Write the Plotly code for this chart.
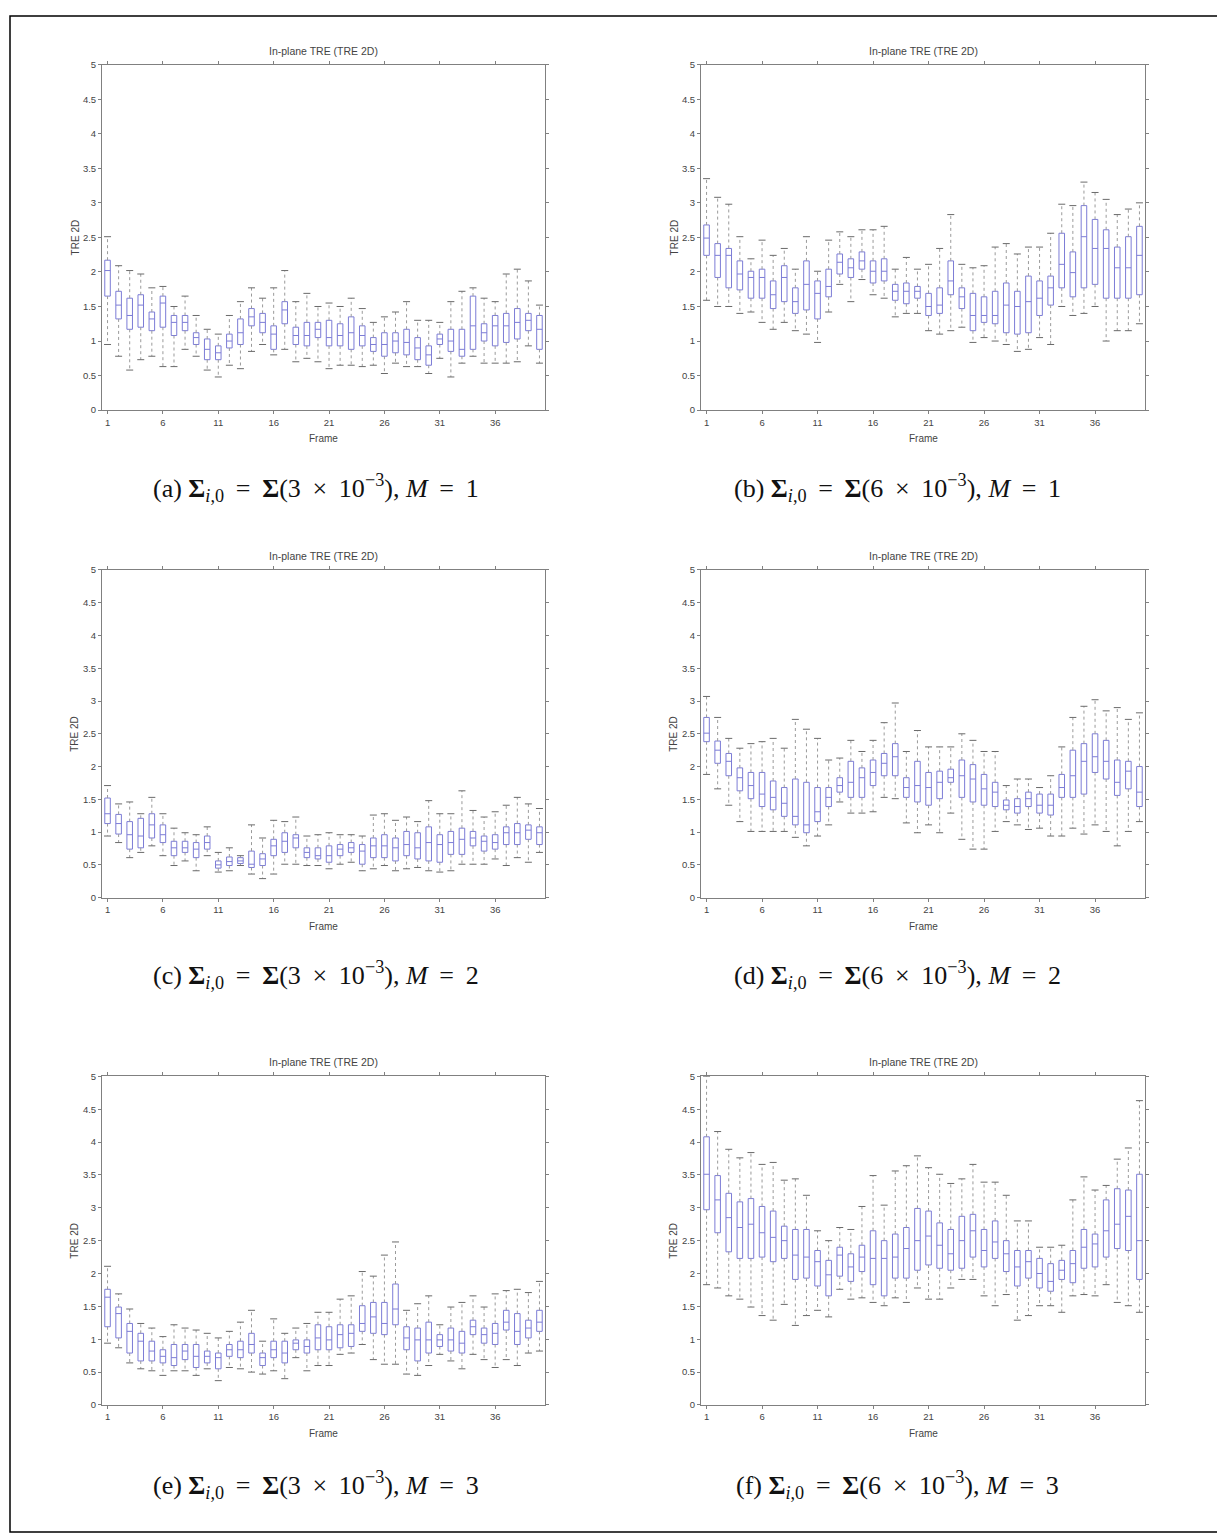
import plotly.graph_objects as go

W, H = 1225, 1535

FRAMES = list(range(1, 41))
X_TICKS = [1, 6, 11, 16, 21, 26, 31, 36]
Y_TICKS = [0, 0.5, 1, 1.5, 2, 2.5, 3, 3.5, 4, 4.5, 5]
Y_TICK_TEXT = ["0", "0.5", "1", "1.5", "2", "2.5", "3", "3.5", "4", "4.5", "5"]
PLOT_TITLE = "In-plane TRE (TRE 2D)"
X_LABEL = "Frame"
Y_LABEL = "TRE 2D"

SP = "&#8201;"  # thin space used to mimic LaTeX math spacing
CAPTIONS = [
    f"(a) <b>Σ</b><sub><i>i</i>,0</sub>{SP} = {SP}<b>Σ</b>(3{SP} × {SP}10<sup>−3</sup>), <i>M</i>{SP} = {SP}1",
    f"(b) <b>Σ</b><sub><i>i</i>,0</sub>{SP} = {SP}<b>Σ</b>(6{SP} × {SP}10<sup>−3</sup>), <i>M</i>{SP} = {SP}1",
    f"(c) <b>Σ</b><sub><i>i</i>,0</sub>{SP} = {SP}<b>Σ</b>(3{SP} × {SP}10<sup>−3</sup>), <i>M</i>{SP} = {SP}2",
    f"(d) <b>Σ</b><sub><i>i</i>,0</sub>{SP} = {SP}<b>Σ</b>(6{SP} × {SP}10<sup>−3</sup>), <i>M</i>{SP} = {SP}2",
    f"(e) <b>Σ</b><sub><i>i</i>,0</sub>{SP} = {SP}<b>Σ</b>(3{SP} × {SP}10<sup>−3</sup>), <i>M</i>{SP} = {SP}3",
    f"(f) <b>Σ</b><sub><i>i</i>,0</sub>{SP} = {SP}<b>Σ</b>(6{SP} × {SP}10<sup>−3</sup>), <i>M</i>{SP} = {SP}3",
]

# ---- panel (a) ----
A_LO = [0.95,0.78,0.58,0.73,0.78,0.63,0.63,0.88,0.78,0.58,0.48,0.65,0.60,0.85,0.95,0.80,0.88,0.70,0.75,0.70,0.60,0.65,0.65,0.63,0.65,0.53,0.68,0.63,0.63,0.53,0.75,0.48,0.68,0.78,0.68,0.68,0.68,0.70,0.93,0.68]
A_Q1 = [1.65,1.32,1.17,1.20,1.15,1.20,1.08,1.15,0.95,0.73,0.73,0.90,0.95,1.22,1.12,0.88,1.25,0.95,0.93,1.05,0.93,0.93,0.88,0.93,0.85,0.78,0.83,0.80,0.73,0.65,0.95,0.85,0.78,0.88,1.00,0.93,0.98,1.03,1.15,0.88]
A_MED = [2.02,1.52,1.37,1.52,1.32,1.55,1.27,1.27,1.05,0.88,0.83,1.00,1.12,1.35,1.27,1.10,1.45,1.08,1.08,1.17,1.05,1.08,1.12,1.08,0.95,0.95,1.00,0.98,0.90,0.80,1.03,1.00,0.88,1.22,1.12,1.22,1.22,1.27,1.30,1.17]
A_Q3 = [2.17,1.72,1.62,1.67,1.42,1.65,1.37,1.37,1.12,1.03,0.93,1.10,1.32,1.47,1.40,1.22,1.57,1.20,1.27,1.27,1.30,1.25,1.35,1.22,1.05,1.12,1.12,1.17,1.05,0.93,1.10,1.17,1.17,1.65,1.25,1.37,1.40,1.47,1.40,1.37]
A_HI = [2.51,2.09,2.02,1.97,1.77,1.79,1.50,1.65,1.37,1.17,1.10,1.37,1.57,1.77,1.62,1.77,2.02,1.57,1.69,1.50,1.55,1.50,1.62,1.47,1.27,1.35,1.42,1.57,1.30,1.30,1.27,1.57,1.72,1.77,1.62,1.57,1.97,2.04,1.87,1.52]

# ---- panel (b) ----
B_LO = [1.59,1.50,1.50,1.40,1.42,1.27,1.17,1.27,1.15,1.10,0.98,1.42,1.82,1.57,1.89,1.67,1.62,1.35,1.40,1.40,1.15,1.10,1.15,1.20,0.98,1.05,1.00,0.95,0.85,0.88,1.05,0.95,1.50,1.37,1.40,1.50,1.00,1.15,1.15,1.25]
B_Q1 = [2.24,1.92,1.77,1.74,1.62,1.62,1.47,1.57,1.40,1.45,1.32,1.64,1.97,1.92,2.04,1.84,1.87,1.59,1.54,1.62,1.37,1.40,1.67,1.47,1.15,1.27,1.25,1.12,1.10,1.12,1.37,1.52,1.77,1.64,1.77,1.82,1.62,1.62,1.62,1.67]
B_MED = [2.49,2.24,2.24,1.97,1.92,1.92,1.67,1.92,1.57,1.82,1.69,1.79,2.14,2.06,2.16,2.01,2.01,1.72,1.72,1.72,1.50,1.52,1.87,1.64,1.37,1.37,1.37,1.52,1.50,1.57,1.62,1.77,2.11,1.99,2.51,2.34,2.34,2.06,2.06,2.24]
B_Q3 = [2.68,2.41,2.34,2.16,2.01,2.04,1.87,2.09,1.77,2.16,1.87,2.04,2.26,2.19,2.29,2.16,2.19,1.82,1.84,1.79,1.69,1.77,2.16,1.77,1.69,1.64,1.72,1.84,1.72,1.94,1.87,1.94,2.56,2.29,2.96,2.76,2.61,2.36,2.51,2.66]
B_HI = [3.35,3.08,2.98,2.51,2.19,2.46,2.24,2.34,2.04,2.51,2.01,2.46,2.58,2.51,2.61,2.61,2.66,2.04,2.21,2.04,2.11,2.34,2.83,2.11,2.06,2.09,2.36,2.41,2.26,2.36,2.36,2.56,2.98,2.96,3.30,3.15,3.05,2.83,2.91,3.00]

# ---- panel (c) ----
C_LO = [0.94,0.84,0.61,0.69,0.79,0.64,0.49,0.56,0.41,0.64,0.39,0.41,0.49,0.36,0.29,0.36,0.51,0.51,0.49,0.49,0.44,0.51,0.54,0.41,0.44,0.49,0.41,0.44,0.46,0.41,0.39,0.41,0.51,0.51,0.51,0.59,0.49,0.61,0.54,0.69]
C_Q1 = [1.13,0.97,0.74,0.76,0.91,0.84,0.64,0.69,0.61,0.74,0.45,0.49,0.52,0.46,0.49,0.64,0.69,0.76,0.61,0.59,0.54,0.64,0.69,0.51,0.61,0.61,0.56,0.64,0.59,0.56,0.54,0.66,0.66,0.79,0.71,0.74,0.81,0.81,0.89,0.81]
C_MED = [1.28,1.13,0.96,0.94,1.11,0.96,0.76,0.76,0.74,0.84,0.50,0.55,0.56,0.51,0.59,0.79,0.86,0.91,0.69,0.64,0.64,0.74,0.76,0.71,0.79,0.79,0.76,0.81,0.76,0.84,0.81,0.84,0.89,0.91,0.86,0.84,0.99,0.99,1.03,0.99]
C_Q3 = [1.52,1.27,1.16,1.21,1.28,1.11,0.86,0.86,0.84,0.94,0.56,0.62,0.61,0.71,0.67,0.89,0.99,0.96,0.76,0.76,0.79,0.81,0.84,0.81,0.91,0.96,0.91,1.01,0.99,1.08,0.96,1.01,1.06,1.01,0.94,0.96,1.08,1.13,1.11,1.08]
C_HI = [1.71,1.43,1.46,1.28,1.53,1.28,1.06,0.99,0.96,1.08,0.69,0.76,0.64,1.11,0.91,1.18,1.16,1.23,0.94,0.96,0.99,0.96,0.96,0.94,1.26,1.28,1.18,1.23,1.16,1.48,1.28,1.28,1.63,1.33,1.23,1.31,1.41,1.53,1.43,1.36]

# ---- panel (d) ----
D_LO = [1.88,1.66,1.41,1.16,1.01,1.01,1.01,1.01,0.92,0.79,0.94,1.11,1.46,1.29,1.29,1.31,1.53,1.51,1.14,0.99,1.11,0.99,1.29,0.89,0.74,0.74,1.01,1.16,1.11,1.04,1.06,0.94,0.94,1.06,0.97,1.11,1.01,0.79,1.01,1.16]
D_Q1 = [2.38,2.05,1.86,1.63,1.51,1.39,1.34,1.24,1.11,0.99,1.16,1.39,1.61,1.53,1.53,1.71,1.86,1.86,1.53,1.46,1.41,1.51,1.76,1.53,1.46,1.41,1.39,1.34,1.29,1.39,1.29,1.26,1.53,1.53,1.58,1.91,1.81,1.56,1.66,1.39]
D_MED = [2.51,2.25,2.08,1.83,1.71,1.58,1.53,1.44,1.24,1.11,1.31,1.53,1.71,1.76,1.83,1.91,2.05,2.15,1.68,1.71,1.68,1.76,1.83,1.86,1.81,1.66,1.61,1.41,1.39,1.51,1.41,1.41,1.68,1.86,2.08,2.15,2.08,1.76,1.93,1.61]
D_Q3 = [2.75,2.39,2.20,1.98,1.91,1.91,1.78,1.68,1.81,1.76,1.68,1.68,1.83,2.08,1.98,2.10,2.20,2.35,1.83,2.08,1.91,1.93,1.96,2.10,2.03,1.88,1.76,1.49,1.51,1.61,1.58,1.58,1.88,2.25,2.35,2.50,2.40,2.10,2.08,2.00]
D_HI = [3.07,2.75,2.43,2.28,2.35,2.38,2.43,2.28,2.72,2.57,2.43,2.10,2.13,2.40,2.23,2.40,2.67,2.97,2.23,2.55,2.30,2.30,2.30,2.50,2.40,2.23,2.23,1.71,1.81,1.81,1.68,1.86,2.30,2.75,2.92,3.02,2.85,2.90,2.72,2.82]

# ---- panel (e) ----
E_LO = [0.94,0.87,0.64,0.55,0.52,0.45,0.52,0.52,0.45,0.55,0.37,0.57,0.55,0.50,0.47,0.52,0.40,0.72,0.52,0.60,0.60,0.77,0.79,0.92,0.69,0.62,0.62,0.47,0.45,0.60,0.77,0.67,0.55,0.77,0.69,0.57,0.69,0.60,0.79,0.82]
E_Q1 = [1.19,1.02,0.79,0.67,0.67,0.64,0.60,0.69,0.57,0.64,0.55,0.74,0.72,0.79,0.60,0.72,0.64,0.84,0.79,0.84,0.84,0.87,0.89,1.12,1.09,1.07,1.22,0.84,0.67,0.79,0.89,0.82,0.79,1.07,0.94,0.92,1.14,0.92,1.02,1.12]
E_MED = [1.64,1.39,1.12,0.97,0.82,0.74,0.72,0.82,0.74,0.74,0.72,0.84,0.84,0.92,0.72,0.84,0.79,0.94,0.89,1.02,0.99,1.07,1.09,1.24,1.34,1.24,1.46,1.02,0.99,0.99,0.99,0.99,0.94,1.19,1.07,1.09,1.26,1.12,1.17,1.26]
E_Q3 = [1.76,1.49,1.24,1.09,0.97,0.84,0.92,0.92,0.92,0.82,0.79,0.92,0.97,1.09,0.79,0.97,0.97,0.99,0.99,1.22,1.19,1.22,1.22,1.51,1.56,1.56,1.84,1.19,1.17,1.26,1.07,1.17,1.12,1.29,1.17,1.24,1.44,1.39,1.29,1.44]
E_HI = [2.11,1.69,1.46,1.24,1.17,1.04,1.22,1.17,1.14,1.09,1.02,1.12,1.26,1.44,0.97,1.31,1.09,1.17,1.24,1.41,1.41,1.61,1.66,2.03,1.96,2.28,2.48,1.44,1.54,1.66,1.22,1.49,1.56,1.66,1.49,1.69,1.74,1.76,1.71,1.88]

# ---- panel (f) ----
F_LO = [1.83,1.78,1.66,1.61,1.49,1.36,1.29,1.53,1.21,1.36,1.44,1.34,1.76,1.61,1.63,1.56,1.51,1.63,1.56,1.78,1.61,1.61,1.78,1.91,1.91,1.66,1.51,1.68,1.29,1.36,1.51,1.51,1.41,1.66,1.68,1.66,1.83,1.56,1.51,1.41]
F_Q1 = [2.97,2.62,2.33,2.23,2.23,2.25,2.18,2.23,1.91,1.93,1.81,1.66,1.96,1.88,2.03,1.83,1.66,1.93,1.93,2.05,2.13,2.08,2.05,2.08,2.25,2.10,2.23,2.03,1.81,1.93,1.78,1.73,1.91,1.86,2.08,2.10,2.25,2.38,2.35,1.91]
F_MED = [3.51,3.12,2.85,2.70,2.75,2.62,2.55,2.50,2.28,2.25,2.18,1.98,2.28,2.10,2.25,2.23,2.23,2.25,2.38,2.50,2.57,2.43,2.30,2.50,2.65,2.35,2.48,2.30,2.10,2.18,2.00,1.88,2.05,2.15,2.40,2.45,2.65,2.75,2.87,2.50]
F_Q3 = [4.08,3.49,3.22,3.09,3.14,3.02,2.95,2.72,2.67,2.67,2.35,2.20,2.40,2.30,2.43,2.65,2.50,2.60,2.70,2.99,2.95,2.77,2.67,2.87,2.90,2.67,2.80,2.50,2.35,2.35,2.23,2.15,2.20,2.35,2.67,2.60,3.12,3.29,3.27,3.51]
F_HI = [5.00,4.16,3.89,3.76,3.84,3.66,3.69,3.42,3.44,3.19,2.65,2.50,2.70,2.67,3.02,3.49,3.04,3.56,3.64,3.79,3.61,3.51,3.37,3.44,3.66,3.39,3.39,3.19,2.80,2.80,2.40,2.40,2.43,3.12,3.47,3.27,3.34,3.74,3.91,4.63]

PANELS = [
    (A_LO, A_Q1, A_MED, A_Q3, A_HI),
    (B_LO, B_Q1, B_MED, B_Q3, B_HI),
    (C_LO, C_Q1, C_MED, C_Q3, C_HI),
    (D_LO, D_Q1, D_MED, D_Q3, D_HI),
    (E_LO, E_Q1, E_MED, E_Q3, E_HI),
    (F_LO, F_Q1, F_MED, F_Q3, F_HI),
]

# ---- layout geometry (pixels) ----
COL_X = [(94, 537), (693, 1137)]
ROW_Y = [(51, 399), (560, 890), (1070, 1401)]
CAPTION_X = [308, 889]
CAPTION_Y = [477, 968, 1482]

BOX_COLOR = "#7c7cd6"
WHISK_COLOR = "#9a9a9a"
CAP_COLOR = "#6a6a6a"
AXIS_COLOR = "#808080"
TEXT_COLOR = "#444444"


def px_x(p):
    return p / W


def px_y(p):
    return 1 - p / H


fig = go.Figure()
annotations = []
layout_axes = {}

for i, (lo, q1, med, q3, hi) in enumerate(PANELS):
    r, c = divmod(i, 2)
    x0, x1 = COL_X[c]
    y0, y1 = ROW_Y[r]
    n = i + 1
    xa = "x" if n == 1 else f"x{n}"
    ya = "y" if n == 1 else f"y{n}"
    xkey = "xaxis" if n == 1 else f"xaxis{n}"
    ykey = "yaxis" if n == 1 else f"yaxis{n}"

    # whiskers (dotted)
    wx, wy = [], []
    for f, a, b, cq, d in zip(FRAMES, lo, q1, q3, hi):
        wx += [f, f, None, f, f, None]
        wy += [cq, d, None, b, a, None]
    fig.add_trace(go.Scatter(x=wx, y=wy, mode="lines", xaxis=xa, yaxis=ya,
                             line=dict(color=WHISK_COLOR, width=1, dash="dot"),
                             hoverinfo="skip", showlegend=False))
    # whisker caps
    fig.add_trace(go.Scatter(x=FRAMES + FRAMES, y=list(hi) + list(lo), mode="markers",
                             xaxis=xa, yaxis=ya,
                             marker=dict(symbol="line-ew", size=5,
                                         line=dict(color=CAP_COLOR, width=1)),
                             hoverinfo="skip", showlegend=False))
    # boxes
    fig.add_trace(go.Box(x=FRAMES, q1=q1, median=med, q3=q3,
                         lowerfence=q1, upperfence=q3,
                         xaxis=xa, yaxis=ya, width=0.5, whiskerwidth=0,
                         boxpoints=False,
                         line=dict(color=BOX_COLOR, width=1),
                         fillcolor="rgba(255,255,255,0)",
                         showlegend=False, hoverinfo="skip"))

    layout_axes[xkey] = dict(
        domain=[px_x(x0), px_x(x1)], anchor=ya, range=[0.5, 40.5],
        tickmode="array", tickvals=X_TICKS, ticktext=[str(t) for t in X_TICKS],
        showline=True, linecolor=AXIS_COLOR, linewidth=1, mirror="ticks",
        ticks="outside", ticklen=3, tickcolor=AXIS_COLOR,
        tickfont=dict(size=9.5, color=TEXT_COLOR, family="Liberation Sans"),
        showgrid=False, zeroline=False)
    layout_axes[ykey] = dict(
        domain=[px_y(y1), px_y(y0)], anchor=xa, range=[0, 5],
        tickmode="array", tickvals=Y_TICKS, ticktext=Y_TICK_TEXT,
        showline=True, linecolor=AXIS_COLOR, linewidth=1, mirror="ticks",
        ticks="outside", ticklen=3, tickcolor=AXIS_COLOR,
        tickfont=dict(size=9.5, color=TEXT_COLOR, family="Liberation Sans"),
        showgrid=False, zeroline=False)

    cx = (x0 + x1) / 2
    annotations.append(dict(text=PLOT_TITLE, x=px_x(cx), y=px_y(y0 - 14), xref="paper", yref="paper",
                            showarrow=False, xanchor="center", yanchor="middle",
                            font=dict(size=10.5, color=TEXT_COLOR, family="Liberation Sans")))
    annotations.append(dict(text=X_LABEL, x=px_x(cx), y=px_y(y1 + 29), xref="paper", yref="paper",
                            showarrow=False, xanchor="center", yanchor="middle",
                            font=dict(size=10, color=TEXT_COLOR, family="Liberation Sans")))
    annotations.append(dict(text=Y_LABEL, x=px_x(x0 - 27), y=px_y((y0 + y1) / 2), xref="paper", yref="paper",
                            showarrow=False, xanchor="center", yanchor="middle", textangle=-90,
                            font=dict(size=10, color=TEXT_COLOR, family="Liberation Sans")))
    annotations.append(dict(text=CAPTIONS[i], x=px_x(CAPTION_X[c]), y=px_y(CAPTION_Y[r]), xref="paper", yref="paper",
                            showarrow=False, xanchor="center", yanchor="middle",
                            font=dict(size=26, color="#111111", family="Liberation Serif")))

fig.update_layout(
    width=W, height=H,
    margin=dict(l=0, r=0, t=0, b=0),
    paper_bgcolor="white", plot_bgcolor="white",
    showlegend=False,
    annotations=annotations,
    shapes=[dict(type="rect", xref="paper", yref="paper",
                 x0=px_x(2), x1=px_x(1219), y0=px_y(1529), y1=px_y(2),
                 line=dict(color="black", width=1.5))],
    **layout_axes,
)

fig.write_html("out.html")
